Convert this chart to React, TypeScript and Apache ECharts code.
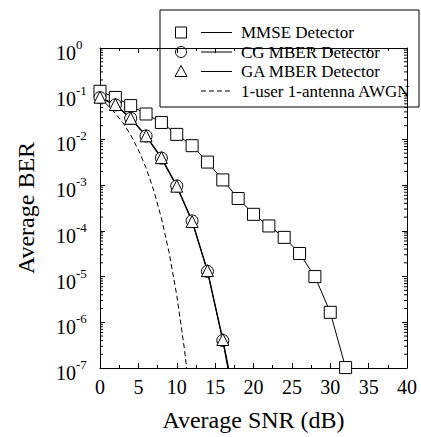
import React, { useEffect, useRef } from "react";
import * as echarts from "echarts";

// ---------- data ----------
const snrMmse = [0, 2, 4, 6, 8, 10, 12, 14, 16, 18, 20, 22, 24, 26, 28, 30, 32];
const berMmse = [
  0.113, 0.083, 0.055, 0.036, 0.0235, 0.0129, 0.0073, 0.0032, 0.0013, 5.1e-4,
  2.3e-4, 1.28e-4, 7.2e-5, 3.2e-5, 1.0e-5, 1.65e-6, 1.02e-7,
];
const snrMber = [0, 2, 4, 6, 8, 10, 12, 14, 16, 18];
const berCg = [0.082, 0.057, 0.029, 0.0119, 0.0039, 9.6e-4, 1.65e-4, 1.3e-5, 4.0e-7, 6e-9];
const berGa = [0.084, 0.058, 0.029, 0.012, 0.004, 9.5e-4, 1.6e-4, 1.35e-5, 4.2e-7, 9e-9];
const snrAwgn = [0, 1, 2, 3, 4, 5, 6, 7, 8, 9, 10, 11, 12];
const berAwgn = [
  0.079, 0.056, 0.037, 0.023, 0.0125, 0.0059, 0.0024, 7.7e-4, 1.9e-4, 3.4e-5,
  3.9e-6, 2.6e-7, 9e-9,
];
const xMin = 0;
const xMax = 40;
const xStep = 5;
const yMinExp = -7;
const yMaxExp = 0;
const legendLabels = [
  "MMSE Detector",
  "CG MBER Detector",
  "GA MBER Detector",
  "1-user 1-antenna AWGN",
];

const SERIF = "'Liberation Serif', 'Times New Roman', serif";

const minorLogValues: number[] = [];
for (let e = yMinExp; e < yMaxExp; e++) {
  for (let m = 2; m <= 9; m++) minorLogValues.push(m * Math.pow(10, e));
}

export default function App() {
  const ref = useRef<HTMLDivElement>(null);

  useEffect(() => {
    if (!ref.current) return;
    const chart = echarts.init(ref.current, null, { renderer: "svg" });

    const pair = (xs: number[], ys: number[]) => xs.map((x, i) => [x, ys[i]]);
    const markerStyle = { color: "#fff", borderColor: "#000", borderWidth: 1 };

    const legendX = 160;
    const legendY = 10;
    const legendW = 259;
    const legendH = 97;
    const rowY = [32.5, 52, 71.5, 91];
    const symX = 181;
    const lineX1 = 201;
    const lineX2 = 232;
    const textX = 241;

    const legendChildren: any[] = [
      {
        type: "rect",
        shape: { x: legendX, y: legendY, width: legendW, height: legendH },
        style: { fill: "#fff", stroke: "#000", lineWidth: 1 },
      },
      {
        type: "rect",
        shape: { x: symX - 5.5, y: rowY[0] - 5.5, width: 11, height: 11 },
        style: { fill: "#fff", stroke: "#000", lineWidth: 1 },
      },
      {
        type: "circle",
        shape: { cx: symX, cy: rowY[1], r: 5.5 },
        style: { fill: "#fff", stroke: "#000", lineWidth: 1 },
      },
      {
        type: "polygon",
        shape: {
          points: [
            [symX, rowY[2] - 6],
            [symX + 6, rowY[2] + 5],
            [symX - 6, rowY[2] + 5],
          ],
        },
        style: { fill: "#fff", stroke: "#000", lineWidth: 1 },
      },
    ];
    rowY.forEach((y, i) => {
      legendChildren.push({
        type: "line",
        shape: { x1: lineX1, y1: y, x2: lineX2, y2: y },
        style: {
          stroke: "#000",
          lineWidth: 1,
          lineDash: i === 3 ? [5, 3] : null,
        },
      });
      legendChildren.push({
        type: "text",
        x: textX,
        y: y,
        style: {
          text: legendLabels[i],
          font: `17px ${SERIF}`,
          fill: "#000",
          verticalAlign: "middle",
          align: "left",
        },
      });
    });

    const xAxisCommon = {
      type: "value",
      min: xMin,
      max: xMax,
      interval: xStep,
      axisLine: { show: true, onZero: false, lineStyle: { color: "#000", width: 1 } },
      axisTick: { show: true, inside: true, length: 5, lineStyle: { color: "#000" } },
      minorTick: { show: true, splitNumber: 2, length: 3, lineStyle: { color: "#000" } },
      splitLine: { show: false },
    };
    const yAxisCommon = {
      type: "log",
      logBase: 10,
      min: Math.pow(10, yMinExp),
      max: Math.pow(10, yMaxExp),
      splitNumber: yMaxExp - yMinExp,
      axisLine: { show: true, onZero: false, lineStyle: { color: "#000", width: 1 } },
      axisTick: { show: true, inside: true, length: 5, lineStyle: { color: "#000" } },
      splitLine: { show: false },
    };

    chart.setOption({
      animation: false,
      backgroundColor: "#fff",
      grid: { left: 100, right: 14, top: 48, bottom: 69 },
      xAxis: [
        {
          ...xAxisCommon,
          position: "bottom",
          name: "Average SNR (dB)",
          nameLocation: "middle",
          nameGap: 40,
          nameTextStyle: { fontFamily: SERIF, fontSize: 24, color: "#000" },
          axisLabel: {
            fontFamily: SERIF,
            fontSize: 20,
            color: "#000",
            margin: 9,
          },
        },
        {
          ...xAxisCommon,
          position: "top",
          axisLabel: { show: false },
        },
      ],
      yAxis: [
        {
          ...yAxisCommon,
          position: "left",
          name: "Average BER",
          nameLocation: "middle",
          nameGap: 62,
          nameTextStyle: { fontFamily: SERIF, fontSize: 24, color: "#000" },
          axisLabel: {
            align: "left",
            margin: 44,
            padding: [10, 0, 0, 0],
            formatter: (v: number) => {
              const e = Math.round(Math.log10(v));
              return `{b|10}{s|${e}}`;
            },
            rich: {
              b: { fontFamily: SERIF, fontSize: 20, color: "#000" },
              s: {
                fontFamily: SERIF,
                fontSize: 13,
                color: "#000",
                padding: [0, 0, 17, 0],
              },
            },
          },
        },
        {
          ...yAxisCommon,
          position: "right",
          axisLabel: { show: false },
        },
      ],
      graphic: [{ type: "group", z: 100, children: legendChildren }],
      series: [
        {
          type: "custom",
          coordinateSystem: "cartesian2d",
          silent: true,
          clip: false,
          z: 1,
          data: minorLogValues.map((v) => [0, v]),
          renderItem: (params: any, api: any) => {
            const y = api.coord([0, api.value(1)])[1];
            const cs = params.coordSys;
            return {
              type: "group",
              children: [
                {
                  type: "line",
                  shape: { x1: cs.x, y1: y, x2: cs.x + 3, y2: y },
                  style: { stroke: "#000", lineWidth: 1 },
                },
                {
                  type: "line",
                  shape: { x1: cs.x + cs.width - 3, y1: y, x2: cs.x + cs.width, y2: y },
                  style: { stroke: "#000", lineWidth: 1 },
                },
              ],
            };
          },
        },
        {
          name: legendLabels[0],
          type: "line",
          data: pair(snrMmse, berMmse),
          symbol: "rect",
          symbolSize: 12,
          showAllSymbol: true,
          lineStyle: { color: "#000", width: 1 },
          itemStyle: markerStyle,
          z: 3,
        },
        {
          name: legendLabels[1],
          type: "line",
          data: pair(snrMber, berCg),
          symbol: "circle",
          symbolSize: 12,
          showAllSymbol: true,
          lineStyle: { color: "#000", width: 1.2 },
          itemStyle: markerStyle,
          z: 3,
        },
        {
          name: legendLabels[2],
          type: "line",
          data: pair(snrMber, berGa),
          symbol: "triangle",
          symbolSize: 12,
          showAllSymbol: true,
          lineStyle: { color: "#000", width: 1.2 },
          itemStyle: markerStyle,
          z: 3,
        },
        {
          name: legendLabels[3],
          type: "line",
          data: pair(snrAwgn, berAwgn),
          symbol: "none",
          lineStyle: { color: "#000", width: 1, type: [5, 3] },
          z: 2,
        },
      ],
    });

    return () => chart.dispose();
  }, []);

  return (
    <div
      ref={ref}
      style={{ position: "fixed", left: 0, top: 0, width: 421, height: 437, background: "#fff" }}
    />
  );
}
